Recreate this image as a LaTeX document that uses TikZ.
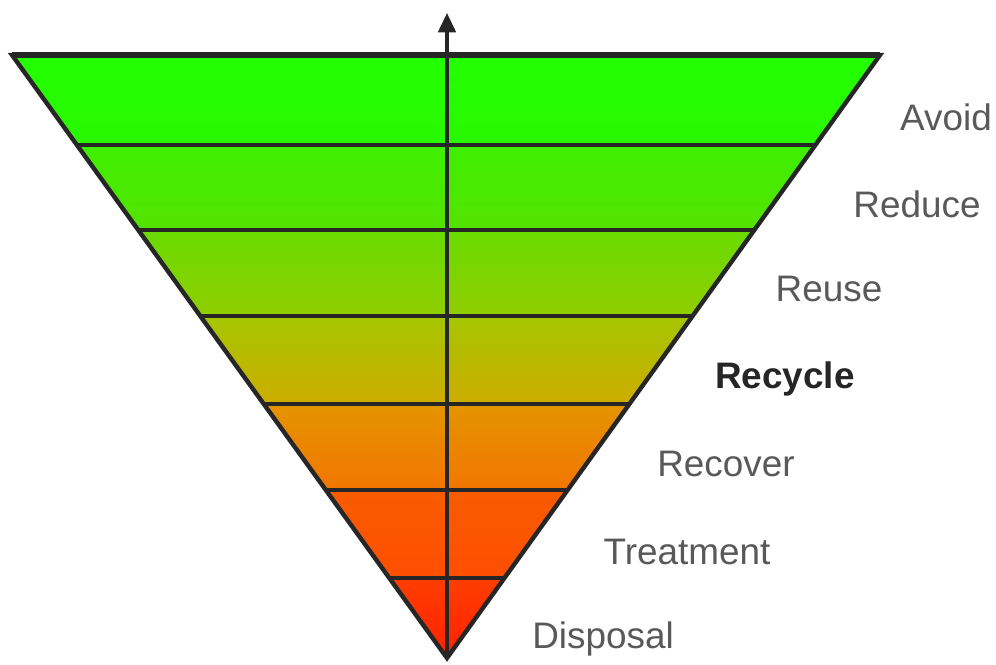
\documentclass[tikz,border=0pt]{standalone}
\usepackage{fontspec}
\setmainfont{Liberation Sans}
\usepackage{xcolor}
\usetikzlibrary{arrows.meta,calc}

% band colours, top and bottom of each band
\definecolor{bandAt}{RGB}{34,255,0}   \definecolor{bandAb}{RGB}{42,248,0}
\definecolor{bandBt}{RGB}{62,240,0}   \definecolor{bandBb}{RGB}{85,226,0}
\definecolor{bandCt}{RGB}{105,220,0}  \definecolor{bandCb}{RGB}{145,205,0}
\definecolor{bandDt}{RGB}{165,198,0}  \definecolor{bandDb}{RGB}{205,172,0}
\definecolor{bandEt}{RGB}{228,148,0}  \definecolor{bandEb}{RGB}{242,118,0}
\definecolor{bandFt}{RGB}{248,92,0}   \definecolor{bandFb}{RGB}{255,78,0}
\definecolor{bandGt}{RGB}{255,62,0}   \definecolor{bandGb}{RGB}{255,30,0}

\begin{document}
\begin{tikzpicture}[
  x=0.02cm,y=-0.02cm,
  edge/.style={line width=2.5pt,black!85},
  axis/.style={-{Triangle[length=11pt,width=10pt]},line width=1.8pt,black!85},
  lbl/.style={anchor=base,font=\fontsize{21}{24}\selectfont,text=black!65}
]
\useasboundingbox (0,0) rectangle (996,664);

% Corners of the inverted triangle
\coordinate (tl) at (12,55);
\coordinate (tr) at (880,55);
\coordinate (apex) at (447,658);
\coordinate (axtop) at (447,13);

% Coloured bands
\begin{scope}
  \clip (tl) -- (tr) -- (apex) -- cycle;
  \foreach \ya/\yb/\ct/\cb in {55/145/bandAt/bandAb,145/230/bandBt/bandBb,
      230/316/bandCt/bandCb,316/404/bandDt/bandDb,404/490/bandEt/bandEb,
      490/578/bandFt/bandFb,578/664/bandGt/bandGb}
    \shade[top color=\ct,bottom color=\cb] (0,\ya) rectangle (996,\yb);
  \foreach \y in {145,230,316,404,490,578}
    \draw[edge] (0,\y) -- (996,\y);
\end{scope}

% Outline
\draw[edge] (tl) -- (tr) -- (apex) -- cycle;
\draw[line width=3pt,black!85] (tl) -- (tr);

% Axis
\draw[axis] (apex) -- (axtop);

% Labels
\node[lbl] (avoid) at (946,130) {Avoid};
\node[lbl] (reduce) at (917,217) {Reduce};
\node[lbl] (reuse) at (829,301) {Reuse};
\node[lbl,font=\fontsize{21}{24}\selectfont\bfseries,text=black!85] (recycle) at (785,388) {Recycle};
\node[lbl] (recover) at (726,476) {Recover};
\node[lbl] (treatment) at (687,564) {Treatment};
\node[lbl] (disposal) at (603,648) {Disposal};
\end{tikzpicture}
\end{document}
